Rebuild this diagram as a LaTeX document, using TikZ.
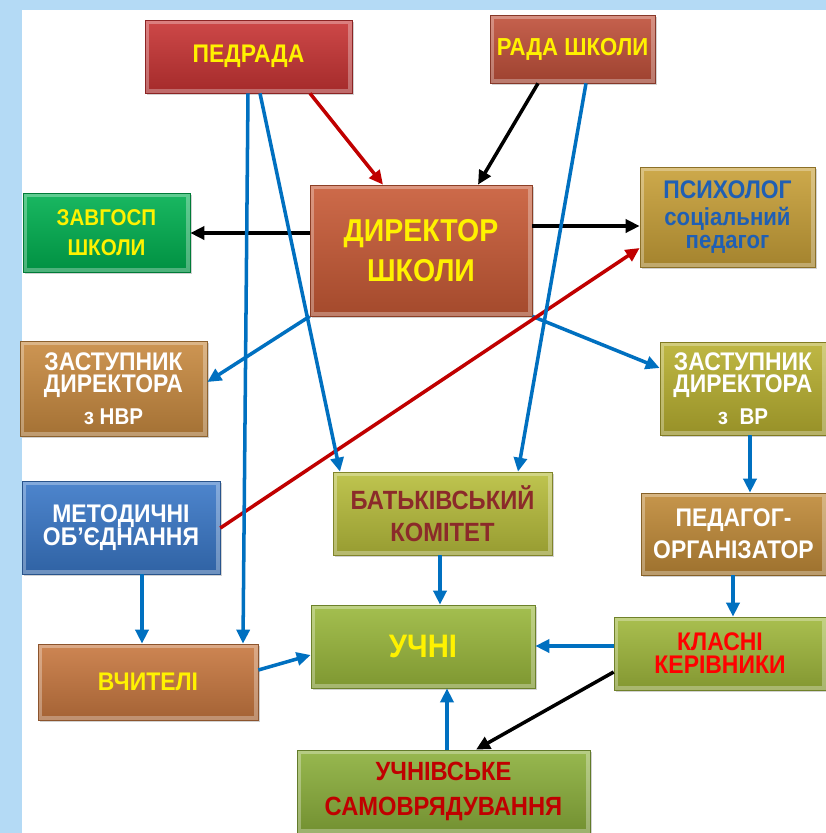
\documentclass[tikz,border=0pt]{standalone}
\usepackage{fontspec}
\setmainfont[FakeStretch=0.9]{Liberation Sans}
\usepackage{xcolor}
\usetikzlibrary{arrows.meta,shadows}

\definecolor{skyblue}{HTML}{B4DAF5}
\definecolor{arrblue}{HTML}{0070C0}
\definecolor{arrred}{HTML}{C00000}
\definecolor{cPedrada}{HTML}{C83434}
\definecolor{cRada}{HTML}{C0503A}
\definecolor{cDyr}{HTML}{C85A36}
\definecolor{cZavgosp}{HTML}{00B050}
\definecolor{cPsych}{HTML}{C8A038}
\definecolor{cNvr}{HTML}{C88A40}
\definecolor{cVr}{HTML}{B8B030}
\definecolor{cMetod}{HTML}{3A78C8}
\definecolor{cBatk}{HTML}{B8BE3C}
\definecolor{cPedorg}{HTML}{C08A38}
\definecolor{cUchni}{HTML}{9AB83C}
\definecolor{cVchyt}{HTML}{C87840}
\definecolor{cKlasni}{HTML}{A0B83C}
\definecolor{cSamovr}{HTML}{8CB03C}
\definecolor{tBlue}{HTML}{1F5FB4}
\definecolor{tBrown}{HTML}{8B2A2A}
\definecolor{tDarkred}{HTML}{C00000}

\begin{document}
\begin{tikzpicture}[
      x=0.02cm, y=-0.02cm,
      every node/.style={font=\bfseries\fontsize{14.5}{17}\selectfont},
      blk/.style={
        rectangle, inner sep=0pt, align=center,
        draw=#1!70!black, top color=#1!90!white, bottom color=#1!82!black,
        drop shadow={opacity=0.35, shadow xshift=1.2pt, shadow yshift=-1.2pt},
        path picture={
          \draw[white, opacity=0.3, line width=4pt]
            (path picture bounding box.south west) rectangle (path picture bounding box.north east);
        }
      },
      bl/.style={draw=arrblue, line width=2pt, -{Triangle[length=2.8mm, width=2.6mm]}},
      rd/.style={draw=arrred, line width=2pt, -{Triangle[length=2.8mm, width=2.6mm]}},
      bk/.style={draw=black, line width=2pt, -{Triangle[length=2.8mm, width=2.6mm]}}
    ]
    \useasboundingbox (0,0) rectangle (826,833);
    \fill[skyblue] (0,0) rectangle (826,833);
    \fill[white] (22,10) rectangle (826,833);

    % boxes
    \node[blk=cPedrada, minimum width=41.4mm, minimum height=14.6mm, text=yellow] (pedrada) at (248.5,56.5) {ПЕДРАДА};
    \node[blk=cRada, minimum width=33mm, minimum height=13.6mm, text=yellow,
          font=\bfseries\fontsize{14}{17}\selectfont] (rada) at (572.5,49) {РАДА ШКОЛИ};
    \node[blk=cDyr, minimum width=44.4mm, minimum height=26.2mm, text=yellow,
          font=\bfseries\fontsize{18}{23}\selectfont] (dyr) at (421,250.5) {ДИРЕКТОР\\ШКОЛИ};
    \node[blk=cZavgosp, minimum width=33.4mm, minimum height=15.8mm, text=yellow,
          font=\bfseries\fontsize{13}{17}\selectfont] (zavgosp) at (106.5,232.5) {ЗАВГОСП\\ШКОЛИ};
    \node[blk=cPsych, minimum width=35mm, minimum height=20mm, text=tBlue] (psych) at (727.5,217)
          {ПСИХОЛОГ\\[-2pt]{\fontsize{14}{14}\selectfont соціальний}\\[-4pt]{\fontsize{14}{14}\selectfont педагог}};
    \node[blk=cNvr, minimum width=37.4mm, minimum height=19mm, text=white] (nvr) at (113.5,388.5)
          {ЗАСТУПНИК\\[-4pt]ДИРЕКТОРА\\[1pt]{\fontsize{13}{14}\selectfont з НВР}};
    \node[blk=cVr, minimum width=33.2mm, minimum height=18.6mm, text=white] (vr) at (743,388.5)
          {ЗАСТУПНИК\\[-4pt]ДИРЕКТОРА\\[1pt]{\fontsize{13}{14}\selectfont з\ \ ВР}};
    \node[blk=cMetod, minimum width=39.6mm, minimum height=18.6mm, text=white] (metod) at (121,527.5)
          {МЕТОДИЧНІ\\[-4pt]ОБ'ЄДНАННЯ};
    \node[blk=cBatk, minimum width=43.8mm, minimum height=16.6mm, text=tBrown,
          font=\bfseries\fontsize{15}{17}\selectfont] (batk) at (442.5,513.5)
          {БАТЬКІВСЬКИЙ\\[1pt]КОМІТЕТ};
    \node[blk=cPedorg, minimum width=37mm, minimum height=16.4mm, text=white] (pedorg) at (733.5,534)
          {ПЕДАГОГ-\\[1pt]ОРГАНІЗАТОР};
    \node[blk=cUchni, minimum width=44.8mm, minimum height=16.6mm, text=yellow,
          font=\bfseries\fontsize{18.5}{20}\selectfont] (uchni) at (423,646.5) {УЧНІ};
    \node[blk=cVchyt, minimum width=44mm, minimum height=15.2mm, text=yellow] (vchyt) at (148,682) {ВЧИТЕЛІ};
    \node[blk=cKlasni, minimum width=42.4mm, minimum height=14.6mm, text=red] (klasni) at (720,653.5)
          {КЛАСНІ\\[-4pt]КЕРІВНИКИ};
    \node[blk=cSamovr, minimum width=58.6mm, minimum height=16.6mm, text=tDarkred,
          font=\bfseries\fontsize{15}{17}\selectfont] (samovr) at (443.5,791.5)
          {УЧНІВСЬКЕ\\[3pt]САМОВРЯДУВАННЯ};

    % connectors
    \draw[rd] (pedrada.south -| 310,0) -- (dyr.north -| 383,0);
    \draw[bk] (rada.south -| 538,0) -- (dyr.north -| 478,0);
    \draw[bk] (dyr.west |- 0,233) -- (zavgosp.east |- 0,233);
    \draw[bk] (dyr.east |- 0,226) -- (psych.west |- 0,226);
    \draw[bl] (dyr.south west) -- (nvr.east |- 0,382);
    \draw[bl] (dyr.south east) -- (vr.west |- 0,368);
    \draw[rd] (metod.east |- 0,528) -- (psych.west |- 0,248);
    \draw[bl] (pedrada.south -| 248,0) -- (vchyt.north -| 243,0);
    \draw[bl] (pedrada.south -| 260,0) -- (batk.north -| 340,0);
    \draw[bl] (rada.south -| 586,0) -- (batk.north -| 518,0);
    \draw[bl] (vr.south -| 750,0) -- (pedorg.north -| 750,0);
    \draw[bl] (metod.south -| 142,0) -- (vchyt.north -| 142,0);
    \draw[bl] (batk.south -| 440,0) -- (uchni.north -| 440,0);
    \draw[bl] (pedorg.south -| 733,0) -- (klasni.north -| 733,0);
    \draw[bl] (klasni.west |- 0,646) -- (uchni.east |- 0,646);
    \draw[bl] (vchyt.east |- 0,670) -- (uchni.west |- 0,655);
    \draw[bl] (samovr.north -| 447,0) -- (uchni.south -| 447,0);
    \draw[bk] (klasni.west |- 0,672) -- (samovr.north -| 476,0);
  \end{tikzpicture}
\end{document}
